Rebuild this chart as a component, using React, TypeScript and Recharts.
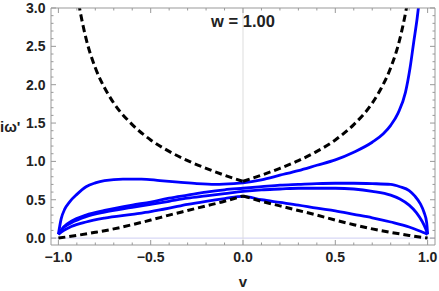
import React from 'react';
import { LineChart, Line, XAxis, YAxis, ReferenceLine } from 'recharts';

// readings, [v, value]
const blueRising: [number, number][] = [
    [-1.0, 0.05], [-0.985, 0.25], [-0.965, 0.38], [-0.94, 0.47], [-0.9, 0.57],
    [-0.85, 0.67], [-0.8, 0.72], [-0.75, 0.75], [-0.65, 0.77], [-0.55, 0.77],
    [-0.45, 0.75], [-0.35, 0.73], [-0.25, 0.71], [-0.15, 0.7], [-0.05, 0.71],
    [0, 0.72], [0.1, 0.76], [0.2, 0.82], [0.3, 0.88], [0.4, 0.95], [0.5, 1.02],
    [0.6, 1.12], [0.7, 1.25], [0.76, 1.36], [0.8, 1.47], [0.84, 1.63],
    [0.88, 1.9], [0.905, 2.22], [0.925, 2.56], [0.943, 2.86], [0.955, 3.1],
];

const blueUpper: [number, number][] = [
    [-1.0, 0.05], [-0.97, 0.15], [-0.93, 0.22], [-0.85, 0.3], [-0.75, 0.36],
    [-0.6, 0.43], [-0.5, 0.47], [-0.4, 0.52], [-0.3, 0.56], [-0.2, 0.6],
    [-0.1, 0.63], [0, 0.65], [0.1, 0.67], [0.2, 0.69], [0.3, 0.7], [0.4, 0.71],
    [0.5, 0.715], [0.6, 0.715], [0.7, 0.71], [0.8, 0.7], [0.85, 0.67],
    [0.9, 0.62], [0.93, 0.55], [0.96, 0.45], [0.98, 0.34], [0.995, 0.2], [1.0, 0.05],
];

const blueMiddle: [number, number][] = [
    [-1.0, 0.05], [-0.97, 0.14], [-0.93, 0.2], [-0.85, 0.28], [-0.75, 0.34],
    [-0.6, 0.4], [-0.5, 0.44], [-0.4, 0.48], [-0.3, 0.52], [-0.2, 0.55],
    [-0.1, 0.58], [0, 0.61], [0.1, 0.63], [0.2, 0.64], [0.3, 0.65], [0.4, 0.65],
    [0.5, 0.65], [0.6, 0.64], [0.7, 0.61], [0.8, 0.56], [0.85, 0.51],
    [0.9, 0.43], [0.94, 0.33], [0.97, 0.22], [0.99, 0.12], [1.0, 0.05],
];

const blueLower: [number, number][] = [
    [-1.0, 0.05], [-0.97, 0.1], [-0.93, 0.15], [-0.85, 0.21], [-0.75, 0.26],
    [-0.6, 0.31], [-0.5, 0.345], [-0.4, 0.39], [-0.3, 0.44], [-0.2, 0.48],
    [-0.1, 0.515], [0, 0.545], [0.1, 0.5], [0.2, 0.465], [0.3, 0.43], [0.4, 0.39],
    [0.5, 0.355], [0.6, 0.31], [0.7, 0.265], [0.8, 0.21], [0.9, 0.145],
    [0.95, 0.1], [0.99, 0.06], [1.0, 0.05],
];

const dashUpperLeft: [number, number][] = [
    [-0.9, 3.2], [-0.88, 2.93], [-0.85, 2.6], [-0.8, 2.22], [-0.75, 1.96],
    [-0.7, 1.76], [-0.6, 1.48], [-0.5, 1.28], [-0.4, 1.13], [-0.3, 1.01],
    [-0.2, 0.91], [-0.1, 0.82], [0, 0.74],
];

const dashUpperRight: [number, number][] = [
    [0, 0.74], [0.1, 0.82], [0.2, 0.91], [0.3, 1.01], [0.4, 1.13], [0.5, 1.28],
    [0.6, 1.48], [0.7, 1.76], [0.75, 1.96], [0.8, 2.22], [0.85, 2.6],
    [0.88, 2.93], [0.9, 3.2],
];

const dashLowerLeft: [number, number][] = [
    [-1.0, 0], [-0.9, 0.035], [-0.8, 0.075], [-0.7, 0.12], [-0.6, 0.175],
    [-0.5, 0.235], [-0.4, 0.3], [-0.3, 0.36], [-0.2, 0.42], [-0.1, 0.48], [0, 0.55],
];

const dashLowerRight: [number, number][] = [
    [0, 0.55], [0.1, 0.48], [0.2, 0.42], [0.3, 0.36], [0.4, 0.3], [0.5, 0.235],
    [0.6, 0.175], [0.7, 0.12], [0.8, 0.075], [0.9, 0.035], [1.0, 0],
];

const xTicks = [
    -1, -0.9, -0.8, -0.7, -0.6, -0.5, -0.4, -0.3, -0.2, -0.1, 0,
    0.1, 0.2, 0.3, 0.4, 0.5, 0.6, 0.7, 0.8, 0.9, 1,
];
const yTicks = [
    0, 0.1, 0.2, 0.3, 0.4, 0.5, 0.6, 0.7, 0.8, 0.9, 1, 1.1, 1.2, 1.3, 1.4, 1.5,
    1.6, 1.7, 1.8, 1.9, 2, 2.1, 2.2, 2.3, 2.4, 2.5, 2.6, 2.7, 2.8, 2.9, 3,
];

const FRAME = '#999';
const TEXT = '#222';
const FONT = '"Liberation Sans", Arial, sans-serif';

const toRows = (pts: [number, number][]) => pts.map(([v, y]) => ({ v, y }));

const isMajor = (v: number) => Math.abs(v * 2 - Math.round(v * 2)) < 1e-6;
const fmt = (v: number) => v.toFixed(1).replace('-', '\u2212');

const tickLen = (v: number) => (isMajor(v) ? 5 : 2.5);

const BottomTick = ({ x, y, payload }: any) => (
    <g>
        <line x1={x} y1={y} x2={x} y2={y - tickLen(payload.value)} stroke={FRAME} />
        {isMajor(payload.value) && (
            <text x={x} y={y + 17} textAnchor="middle" fontFamily={FONT} fontWeight="bold" fontSize={14} fill={TEXT}>
                {fmt(payload.value)}
            </text>
        )}
    </g>
);

const TopTick = ({ x, y, payload }: any) => (
    <line x1={x} y1={y} x2={x} y2={y + tickLen(payload.value)} stroke={FRAME} />
);

const LeftTick = ({ x, y, payload }: any) => (
    <g>
        <line x1={x} y1={y} x2={x + tickLen(payload.value)} y2={y} stroke={FRAME} />
        {isMajor(payload.value) && (
            <text x={x - 5.5} y={y + 5} textAnchor="end" fontFamily={FONT} fontWeight="bold" fontSize={14} fill={TEXT}>
                {fmt(payload.value)}
            </text>
        )}
    </g>
);

const RightTick = ({ x, y, payload }: any) => (
    <line x1={x} y1={y} x2={x - tickLen(payload.value)} y2={y} stroke={FRAME} />
);

const series = [
    { key: 'bRise', pts: blueRising, blue: true },
    { key: 'bUp', pts: blueUpper, blue: true },
    { key: 'bMid', pts: blueMiddle, blue: true },
    { key: 'bLow', pts: blueLower, blue: true },
    { key: 'dUL', pts: dashUpperLeft, blue: false },
    { key: 'dUR', pts: dashUpperRight, blue: false },
    { key: 'dLL', pts: dashLowerLeft, blue: false },
    { key: 'dLR', pts: dashLowerRight, blue: false },
];

export default function App() {
    return (
        <div style={{ position: 'absolute', left: 0, top: 0, background: '#fff' }}>
            <LineChart width={439} height={291} margin={{ top: 0, right: 0, bottom: 0, left: 0 }}>
                <XAxis
                    xAxisId="bottom"
                    dataKey="v"
                    type="number"
                    domain={[-1.04, 1.04]}
                    ticks={xTicks}
                    interval={0}
                    height={46}
                    tickSize={0}
                    tickMargin={0}
                    tickLine={false}
                    axisLine={{ stroke: FRAME }}
                    tick={<BottomTick />}
                    allowDataOverflow
                    label={{ value: 'v', position: 'insideBottom', offset: 4, fontFamily: FONT, fontWeight: 'bold', fontSize: 15, fill: TEXT }}
                />
                <XAxis
                    xAxisId="top"
                    orientation="top"
                    dataKey="v"
                    type="number"
                    domain={[-1.04, 1.04]}
                    ticks={xTicks}
                    interval={0}
                    height={8}
                    tickSize={0}
                    tickMargin={0}
                    tickLine={false}
                    axisLine={{ stroke: FRAME }}
                    tick={<TopTick />}
                    allowDataOverflow
                />
                <YAxis
                    yAxisId="left"
                    dataKey="y"
                    type="number"
                    domain={[-0.09, 3]}
                    ticks={yTicks}
                    interval={0}
                    width={51}
                    tickSize={0}
                    tickMargin={0}
                    tickLine={false}
                    axisLine={{ stroke: FRAME }}
                    tick={<LeftTick />}
                    allowDataOverflow
                    label={{ value: "i\u03c9'", position: 'insideLeft', offset: 0, fontFamily: FONT, fontWeight: 'bold', fontSize: 15, fill: TEXT }}
                />
                <YAxis
                    yAxisId="right"
                    orientation="right"
                    dataKey="y"
                    type="number"
                    domain={[-0.09, 3]}
                    ticks={yTicks}
                    interval={0}
                    width={4}
                    tickSize={0}
                    tickMargin={0}
                    tickLine={false}
                    axisLine={{ stroke: FRAME }}
                    tick={<RightTick />}
                    allowDataOverflow
                />

                <ReferenceLine xAxisId="bottom" yAxisId="left" y={0} stroke="#cdcdf2" />
                <ReferenceLine
                    xAxisId="bottom"
                    yAxisId="left"
                    x={0}
                    stroke="#dddddd"
                    label={{ value: 'w = 1.00', position: 'insideTop', offset: 7, fontFamily: FONT, fontWeight: 'bold', fontSize: 16.5, fill: TEXT }}
                />

                {series.map((s) => (
                    <Line
                        key={s.key}
                        xAxisId="bottom"
                        yAxisId="left"
                        data={toRows(s.pts)}
                        dataKey="y"
                        type="monotone"
                        dot={false}
                        activeDot={false}
                        stroke={s.blue ? '#0000ff' : '#000'}
                        strokeWidth={s.blue ? 2.8 : 3}
                        strokeDasharray={s.blue ? undefined : '7 4'}
                        isAnimationActive={false}
                    />
                ))}
            </LineChart>
        </div>
    );
}
